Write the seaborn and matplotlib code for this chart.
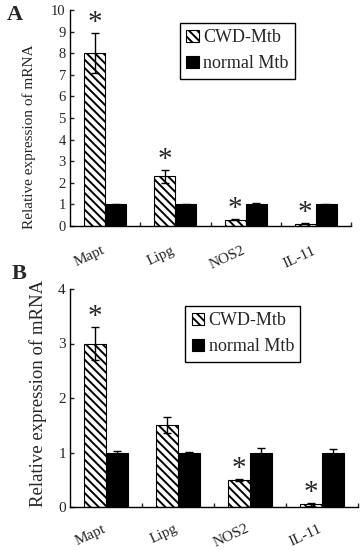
import pandas as pd
import matplotlib
matplotlib.use("Agg")
import matplotlib.pyplot as plt
import matplotlib.transforms as mtransforms
import seaborn as sns

# data
genes = ["Mapt", "Lipg", "NOS2", "IL-11"]
groups = ["CWD-Mtb", "normal Mtb"]

a_cwd = [8.0, 2.3, 0.3, 0.1]
a_cwd_err = [0.93, 0.3, 0.03, 0.03]
a_normal = [1.0, 1.0, 1.0, 1.0]
a_normal_err = [0.03, 0.01, 0.08, 0.03]
a_signif = [True, True, True, True]

b_cwd = [3.0, 1.5, 0.5, 0.05]
b_cwd_err = [0.31, 0.15, 0.02, 0.03]
b_normal = [1.0, 1.0, 1.0, 1.0]
b_normal_err = [0.03, 0.01, 0.08, 0.06]
b_signif = [True, False, True, True]

sns.set_style("ticks")
plt.rcParams["font.family"] = ["Liberation Serif", "DejaVu Serif"]
plt.rcParams["hatch.linewidth"] = 1.4

fig = plt.figure(figsize=(3.61, 5.52), dpi=100)
W, H = 361, 552


def px_axes(left, top, right, bottom):
    return fig.add_axes([left / W, 1 - bottom / H, (right - left) / W, (bottom - top) / H])


def draw_panel(ax, cwd, cwd_err, normal, normal_err, signif, ymax, tick_fs, label_fs,
               ylabel_x, ylabel_y, leg_anchor, xlab_pad):
    df = pd.DataFrame({
        "gene": genes * 2,
        "group": [groups[0]] * 4 + [groups[1]] * 4,
        "value": cwd + normal,
    })
    sns.barplot(data=df, x="gene", y="value", hue="group", order=genes, hue_order=groups,
                palette={"CWD-Mtb": "white", "normal Mtb": "black"}, width=0.6,
                errorbar=None, edgecolor="black", linewidth=0.8, legend=False, ax=ax)
    for p in ax.containers[0]:
        p.set_hatch("\\\\\\\\")

    # error bars on top of the bars drawn by seaborn
    for cont, errs in zip(ax.containers, [cwd_err, normal_err]):
        xs = [p.get_x() + p.get_width() / 2 for p in cont]
        ys = [p.get_height() for p in cont]
        ax.errorbar(xs, ys, yerr=errs, fmt="none", ecolor="black", elinewidth=1,
                    capsize=3, capthick=1)

    # asterisks
    for p, e, s in zip(ax.containers[0], cwd_err, signif):
        if s:
            ax.annotate("*", xy=(p.get_x() + p.get_width() / 2, p.get_height() + e),
                        xytext=(0, 2), textcoords="offset points", ha="center",
                        va="baseline", fontsize=21)

    ax.set_xlim(-0.5, 3.5)
    ax.set_ylim(0, ymax)
    ax.set_yticks(range(0, ymax + 1))
    ax.tick_params(axis="y", direction="in", length=3, width=1, labelsize=tick_fs, pad=3)
    ax.set_xticks(range(4))
    ax.set_xticklabels(genes, rotation=25, ha="right", va="top", rotation_mode="anchor")
    ax.set_xticks([0.5, 1.5, 2.5, 3.5], minor=True)
    ax.tick_params(axis="x", which="major", length=0, labelsize=11, pad=xlab_pad)
    ax.tick_params(axis="x", which="minor", direction="in", length=3, width=1)
    shift = mtransforms.ScaledTranslation(-4 / 100, 0, fig.dpi_scale_trans)
    for lab in ax.get_xticklabels():
        lab.set_transform(lab.get_transform() + shift)

    ax.set_xlabel("")
    ax.set_ylabel("Relative expression of mRNA", fontsize=label_fs)
    ax.yaxis.set_label_coords(ylabel_x, ylabel_y)
    for side in ["top", "right"]:
        ax.spines[side].set_visible(False)
    for side in ["left", "bottom"]:
        ax.spines[side].set_linewidth(1)
        ax.spines[side].set_color("black")

    leg = ax.legend(handles=[ax.containers[0], ax.containers[1]], labels=groups,
                    loc="upper left", bbox_to_anchor=leg_anchor, borderaxespad=0,
                    frameon=True, fancybox=False, edgecolor="black", framealpha=1,
                    fontsize=13, handlelength=0.7, handleheight=0.7, handletextpad=0.25,
                    labelspacing=0.5, borderpad=0.35)
    leg.get_frame().set_linewidth(1)


ax_a = px_axes(70, 10, 351, 226)
draw_panel(ax_a, a_cwd, a_cwd_err, a_normal, a_normal_err, a_signif, 10, 10.5, 11,
           -0.121, 0.412, (0.391, 0.94), 13)

ax_b = px_axes(70, 289, 358, 507)
draw_panel(ax_b, b_cwd, b_cwd_err, b_normal, b_normal_err, b_signif, 4, 11, 13.5,
           -0.08, 0.52, (0.40, 0.922), 11)

fig.text(15 / W, 1 - 15 / H, "A", fontsize=16, fontweight="bold", ha="center", va="center")
fig.text(19 / W, 1 - 274 / H, "B", fontsize=16, fontweight="bold", ha="center", va="center")

fig.savefig("out.png", dpi=100)
